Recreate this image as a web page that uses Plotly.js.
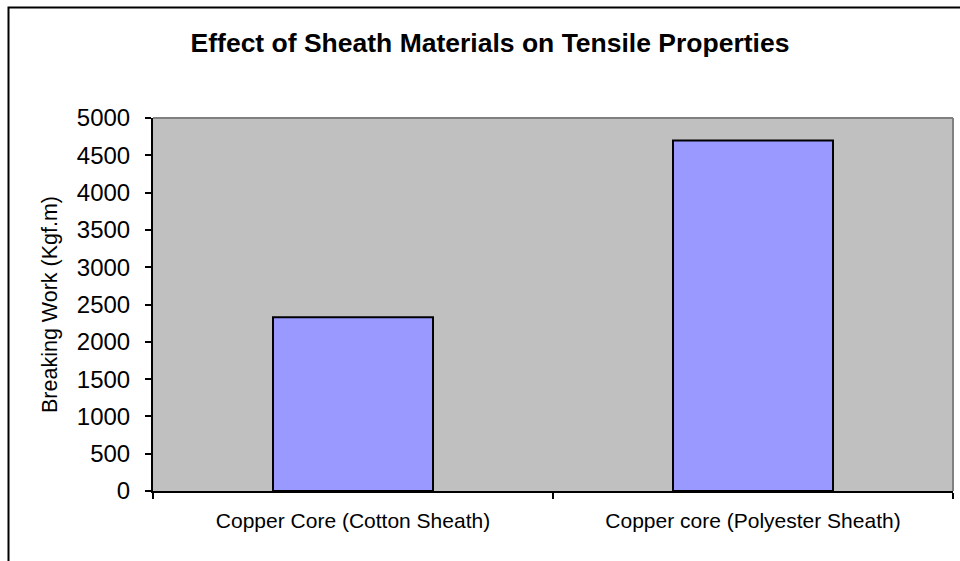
<!DOCTYPE html>
<html>
<head>
<meta charset="utf-8">
<script src="https://cdn.plot.ly/plotly-3.0.1.min.js"></script>
<style>html,body{margin:0;padding:0;background:#fff}#chart{width:960px;height:561px}</style>
</head>
<body>
<div id="chart"></div>
<script>
const categories = ["Copper Core (Cotton Sheath)", "Copper core (Polyester Sheath)"];
const breakingWork = [2330, 4700];
const yTicks = [0, 500, 1000, 1500, 2000, 2500, 3000, 3500, 4000, 4500, 5000];

const FONT = "Arial, 'Liberation Sans', sans-serif";
const L = 153, R = 7, T = 118, B = 70, W = 960, H = 561;
const pw = W - L - R, ph = H - T - B;
const px2x = p => (p - L) / pw;
const py2y = p => (H - B - p) / ph;

const trace = {
  type: "bar",
  x: categories,
  y: breakingWork,
  marker: {color: "#9999FF", line: {color: "#000000", width: 2}},
  hoverinfo: "x+y"
};

const layout = {
  width: W, height: H,
  margin: {l: L, r: R, t: T, b: B, pad: 0},
  paper_bgcolor: "#FFFFFF",
  plot_bgcolor: "#C0C0C0",
  showlegend: false,
  bargap: 0.6,
  font: {family: FONT, color: "#000000"},
  title: {
    text: "<b>Effect of Sheath Materials on Tensile Properties</b>",
    font: {family: FONT, size: 26.5, color: "#000000"},
    x: 490 / W, xanchor: "center", xref: "container",
    y: 1 - 42.5 / H, yanchor: "middle", yref: "container"
  },
  xaxis: {
    type: "category",
    showgrid: false, zeroline: false,
    showline: true, linecolor: "#000000", linewidth: 2,
    ticks: "outside", tickson: "boundaries", ticklen: 6, tickwidth: 2, tickcolor: "#000000",
    tickfont: {family: FONT, size: 21, color: "#000000"},
    ticklabelstandoff: 10
  },
  yaxis: {
    range: [0, 5000],
    tickvals: yTicks,
    ticktext: yTicks.map(String),
    showgrid: false, zeroline: false,
    showline: true, linecolor: "#000000", linewidth: 2,
    ticks: "outside", ticklen: 6, tickwidth: 2, tickcolor: "#000000",
    tickfont: {family: FONT, size: 24, color: "#000000"},
    ticklabelstandoff: 10,
    title: {text: "Breaking Work (Kgf.m)", font: {family: FONT, size: 21.5, color: "#000000"}, standoff: 13}
  },
  shapes: [
    {type: "line", xref: "paper", yref: "paper", x0: 0, x1: 1, y0: 1, y1: 1, line: {color: "#808080", width: 2}, layer: "above"},
    {type: "line", xref: "paper", yref: "paper", x0: 1, x1: 1, y0: 0, y1: 1, line: {color: "#808080", width: 2}, layer: "above"},
    {type: "rect", xref: "paper", yref: "paper", x0: px2x(8.5), x1: px2x(1100), y0: py2y(700), y1: py2y(7.5), line: {color: "#000000", width: 2}, fillcolor: "rgba(0,0,0,0)", layer: "above"}
  ]
};

Plotly.newPlot("chart", [trace], layout, {displayModeBar: false, responsive: false});
</script>
</body>
</html>
